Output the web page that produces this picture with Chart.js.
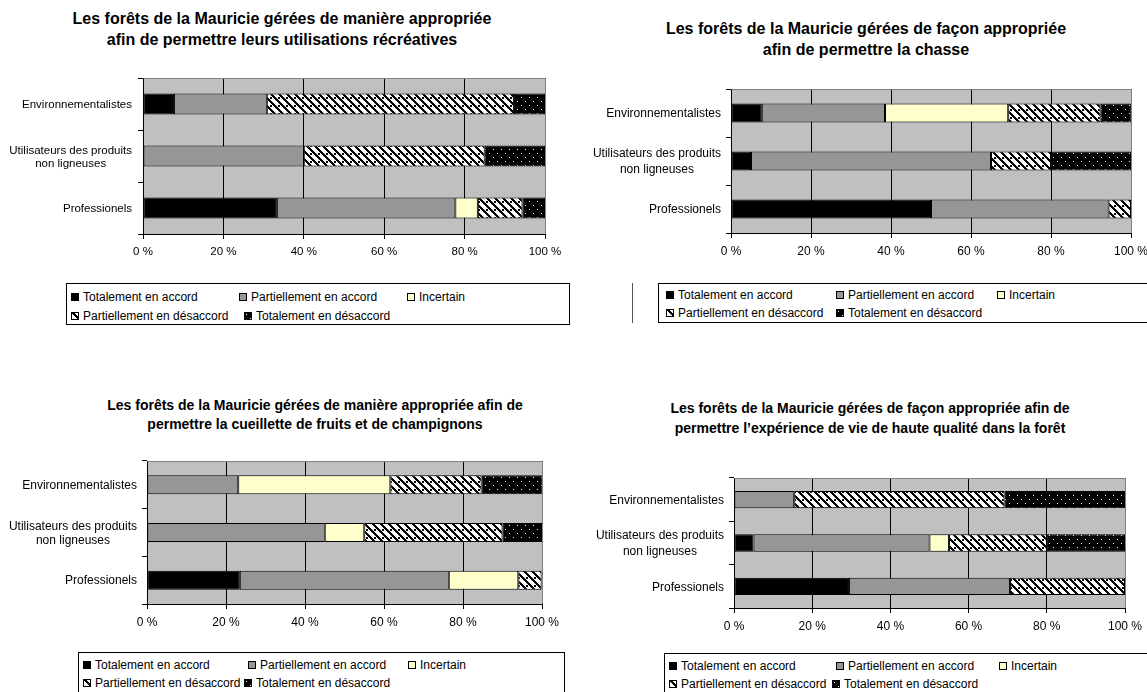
<!DOCTYPE html>
<html lang="fr">
<head>
<meta charset="UTF-8">
<title>Forêts de la Mauricie</title>
<script src="https://cdn.jsdelivr.net/npm/chart.js"></script>
<style>
  body { margin: 0; width: 1147px; height: 692px; overflow: hidden; background: #fff; position: relative;
         font-family: "Liberation Sans", Arial, sans-serif; color: #000; }
  .box { position: absolute; }
  .tline { position: absolute; font-weight: bold; white-space: nowrap; transform: translate(-50%, -50%); }
  .legend { position: absolute; border: 1px solid #000; box-sizing: border-box; font-size: 12px; background: #fff; }
  .item { position: absolute; white-space: nowrap; line-height: 14px; transform: translateY(-50%); }
  .sw { display: inline-block; width: 6px; height: 6px; border: 1px solid #000; margin-right: 4px;
        position: relative; top: 0px; }
  .vline { position: absolute; width: 1px; background: #555; }
</style>
</head>
<body>
<script>
// categories and series
var categories = [['Environnementalistes'], ['Utilisateurs des produits', 'non ligneuses'], ['Professionels']];
var seriesNames = ['Totalement en accord', 'Partiellement en accord', 'Incertain',
                   'Partiellement en désaccord', 'Totalement en désaccord'];
var tickLabels = ['0 %', '20 %', '40 %', '60 %', '80 %', '100 %'];

// values in % : [Environnementalistes, Utilisateurs, Professionels]
var recreaTotAccord = [7.7, 0, 33.3];
var recreaPartAccord = [23.1, 40, 44.4];
var recreaIncertain = [0, 0, 5.6];
var recreaPartDesac = [61.5, 45, 11.1];
var recreaTotDesac = [7.7, 15, 5.6];

var chasseTotAccord = [7.7, 5, 50];
var chassePartAccord = [30.8, 60, 44.4];
var chasseIncertain = [30.8, 0, 0];
var chassePartDesac = [23.1, 15, 5.6];
var chasseTotDesac = [7.7, 20, 0];

var cueilTotAccord = [0, 0, 23.5];
var cueilPartAccord = [23.1, 45, 52.9];
var cueilIncertain = [38.5, 10, 17.6];
var cueilPartDesac = [23.1, 35, 5.9];
var cueilTotDesac = [15.4, 10, 0];

var experTotAccord = [0, 5, 29.4];
var experPartAccord = [15.4, 45, 41.2];
var experIncertain = [0, 5, 0];
var experPartDesac = [53.8, 25, 29.4];
var experTotDesac = [30.8, 20, 0];

var titles = [
  ['Les forêts de la Mauricie gérées de manière appropriée', 'afin de permettre leurs utilisations récréatives'],
  ['Les forêts de la Mauricie gérées de façon appropriée', 'afin de permettre la chasse'],
  ['Les forêts de la Mauricie gérées de manière appropriée afin de', 'permettre la cueillette de fruits et de champignons'],
  ['Les forêts de la Mauricie gérées de façon appropriée afin de', 'permettre l’expérience de vie de haute qualité dans la forêt']
];

var chartSeries = [
  [recreaTotAccord, recreaPartAccord, recreaIncertain, recreaPartDesac, recreaTotDesac],
  [chasseTotAccord, chassePartAccord, chasseIncertain, chassePartDesac, chasseTotDesac],
  [cueilTotAccord, cueilPartAccord, cueilIncertain, cueilPartDesac, cueilTotDesac],
  [experTotAccord, experPartAccord, experIncertain, experPartDesac, experTotDesac]
];

// page layout (px)
var layouts = [
  { box: [0, 0, 580, 275], plot: [143, 78, 545, 234], font: 11.5, lh: 13, gap: 11,
    title: { x: 282, y: [19, 40], size: 16 },
    legend: { x: 66, y: 283, w: 504, h: 42, rows: [14, 33], cols: [[5, 173, 341], [5, 178]] } },
  { box: [580, 60, 600, 220], plot: [731, 89, 1131, 233], font: 12, lh: 16, gap: 10,
    title: { x: 866, y: [29, 50], size: 16 },
    legend: { x: 658, y: 283, w: 520, h: 40, rows: [12, 30], cols: [[8, 178, 339], [8, 178]] } },
  { box: [0, 440, 580, 210], plot: [147, 461, 542, 604], font: 12, lh: 14.5, gap: 10,
    title: { x: 315, y: [405, 424], size: 14 },
    legend: { x: 78, y: 652, w: 487, h: 50, rows: [13, 31], cols: [[5, 170, 330], [5, 166]] } },
  { box: [580, 450, 600, 200], plot: [734, 478, 1125, 608], font: 12, lh: 16, gap: 10,
    title: { x: 870, y: [408, 428], size: 14 },
    legend: { x: 664, y: 653, w: 520, h: 50, rows: [13, 31], cols: [[5, 172, 335], [5, 168]] } }
];

var FONT = '"Liberation Sans", Arial, sans-serif';
Chart.defaults.font.family = FONT;
Chart.defaults.color = '#000';

// fill patterns
function stripeTile() {
  var c = document.createElement('canvas'); c.width = 8; c.height = 8;
  var g = c.getContext('2d');
  g.fillStyle = '#fff'; g.fillRect(0, 0, 8, 8);
  g.fillStyle = '#000';
  for (var y = 0; y < 8; y++) for (var x = 0; x < 8; x++) {
    if ((x - y + 8) % 8 < 3) g.fillRect(x, y, 1, 1);
  }
  g.fillRect(6, 1, 2, 2);
  return c;
}
function dotTile() {
  var c = document.createElement('canvas'); c.width = 8; c.height = 8;
  var g = c.getContext('2d');
  g.fillStyle = '#000'; g.fillRect(0, 0, 8, 8);
  g.fillStyle = '#fff';
  g.fillRect(1, 1, 1, 1); g.fillRect(5, 5, 1, 1);
  return c;
}
var tiles = [stripeTile(), dotTile()];
var patCtx = document.createElement('canvas').getContext('2d');
var fills = ['#000000', '#969696', '#FFFFCC',
             patCtx.createPattern(tiles[0], 'repeat'), patCtx.createPattern(tiles[1], 'repeat')];
var swatchCss = ['background:#000', 'background:#969696', 'background:#FFFFCC',
                 'background-image:url(' + tiles[0].toDataURL() + ')',
                 'background-image:url(' + tiles[1].toDataURL() + ')'];

var plotFrame = {
  id: 'plotFrame',
  beforeDraw: function (chart) {
    var a = chart.chartArea, ctx = chart.ctx;
    ctx.save(); ctx.fillStyle = '#C0C0C0';
    ctx.fillRect(a.left, a.top, a.right - a.left, a.bottom - a.top);
    ctx.restore();
  },
  beforeDatasetsDraw: function (chart) {
    var a = chart.chartArea, ctx = chart.ctx;
    ctx.save(); ctx.strokeStyle = '#808080'; ctx.lineWidth = 1;
    ctx.beginPath();
    ctx.moveTo(Math.round(a.left) + 0.5, Math.round(a.top) + 0.5);
    ctx.lineTo(Math.round(a.right) + 0.5, Math.round(a.top) + 0.5);
    ctx.lineTo(Math.round(a.right) + 0.5, Math.round(a.bottom));
    ctx.stroke(); ctx.restore();
  }
};

var catLabels = {
  id: 'catLabels',
  afterDraw: function (chart, args, opts) {
    var ctx = chart.ctx, ys = chart.scales.y, a = chart.chartArea;
    ctx.save();
    ctx.font = opts.size + 'px ' + FONT;
    ctx.fillStyle = '#000'; ctx.textAlign = 'center'; ctx.textBaseline = 'middle';
    chart.data.labels.forEach(function (lines, i) {
      var w = Math.max.apply(null, lines.map(function (l) { return ctx.measureText(l).width; }));
      var cx = a.left - opts.gap - w / 2;
      var y0 = ys.getPixelForValue(i) + 1 - (lines.length - 1) * opts.lineHeight / 2;
      lines.forEach(function (l, j) { ctx.fillText(l, cx, y0 + j * opts.lineHeight); });
    });
    ctx.restore();
  }
};

function el(tag, cls, css, text) {
  var d = document.createElement(tag);
  if (cls) d.className = cls;
  if (css) d.style.cssText = css;
  if (text) d.textContent = text;
  document.body.appendChild(d);
  return d;
}

layouts.forEach(function (L, k) {
  // title
  titles[k].forEach(function (t, j) {
    el('div', 'tline', 'left:' + L.title.x + 'px;top:' + L.title.y[j] + 'px;font-size:' + L.title.size + 'px;', t);
  });

  // chart
  var box = el('div', 'box', 'left:' + L.box[0] + 'px;top:' + L.box[1] + 'px;width:' + L.box[2] + 'px;height:' + L.box[3] + 'px;');
  var cv = document.createElement('canvas'); box.appendChild(cv);
  var axisH = 28;
  var datasets = seriesNames.map(function (name, s) {
    return {
      label: name,
      data: chartSeries[k][s].map(function (v) { return v === 0 ? null : v; }),
      backgroundColor: fills[s],
      borderColor: '#000', borderWidth: 1, borderSkipped: false,
      categoryPercentage: 1.0, barPercentage: 0.4
    };
  });
  var tickFont = { size: L.font, family: FONT };
  new Chart(cv, {
    type: 'bar',
    data: { labels: categories, datasets: datasets },
    plugins: [plotFrame, catLabels],
    options: {
      indexAxis: 'y', responsive: true, maintainAspectRatio: false, animation: false,
      events: [],
      layout: { padding: {
        left: 0,
        top: L.plot[1] - L.box[1],
        right: L.box[0] + L.box[2] - L.plot[2],
        bottom: L.box[1] + L.box[3] - L.plot[3] - axisH } },
      plugins: {
        legend: { display: false }, tooltip: { enabled: false }, title: { display: false },
        catLabels: { size: L.font, lineHeight: L.lh, gap: L.gap }
      },
      scales: {
        x: {
          stacked: true, min: 0, max: 100,
          ticks: { stepSize: 20, font: tickFont, color: '#000', padding: 6, maxRotation: 0,
                   callback: function (v, i) { return tickLabels[i]; } },
          grid: { color: '#000', lineWidth: 1, tickLength: 5 },
          border: { color: '#000', width: 1 },
          afterFit: function (s) { s.height = axisH; }
        },
        y: {
          stacked: true,
          ticks: { display: false },
          grid: { drawOnChartArea: false, color: '#000', tickLength: 5, offset: true },
          border: { color: '#000', width: 1 },
          afterFit: function (s) { s.width = L.plot[0] - L.box[0]; }
        }
      }
    }
  });

  // legend
  var G = L.legend;
  var lg = el('div', 'legend', 'left:' + G.x + 'px;top:' + G.y + 'px;width:' + G.w + 'px;height:' + G.h + 'px;');
  var idx = 0;
  G.cols.forEach(function (row, r) {
    row.forEach(function (cx) {
      var it = document.createElement('div');
      it.className = 'item';
      it.style.cssText = 'left:' + (cx - 1) + 'px;top:' + (G.rows[r] - 1) + 'px;';
      var sw = document.createElement('span');
      sw.className = 'sw'; sw.style.cssText = swatchCss[idx];
      it.appendChild(sw);
      it.appendChild(document.createTextNode(seriesNames[idx]));
      lg.appendChild(it);
      idx++;
    });
  });
});

// stray frame line between the two top legends
el('div', 'vline', 'left:632px;top:283px;height:40px;');
</script>
</body>
</html>
